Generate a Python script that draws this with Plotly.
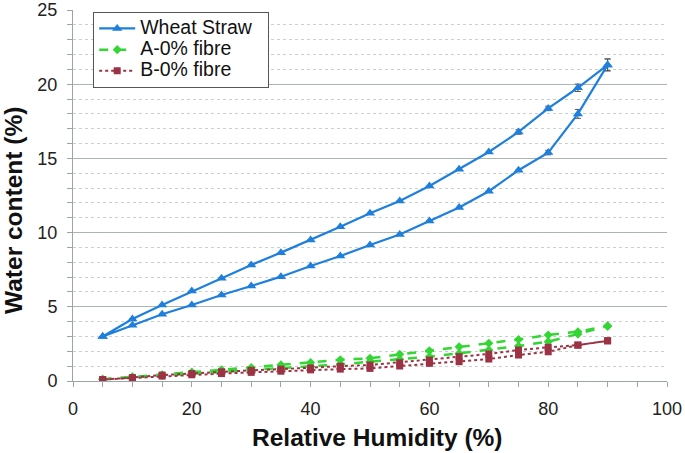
import plotly.graph_objects as go

rh = [5, 10, 15, 20, 25, 30, 35, 40, 45, 50, 55, 60, 65, 70, 75, 80, 85, 90]

wheat_ads = [3.0, 3.75, 4.5, 5.12, 5.8, 6.4, 7.03, 7.75, 8.42, 9.16, 9.87, 10.79, 11.69, 12.79, 14.2, 15.39, 18.0, 21.3]
wheat_des = [3.0, 4.18, 5.12, 6.06, 6.92, 7.82, 8.65, 9.5, 10.4, 11.3, 12.13, 13.14, 14.27, 15.43, 16.78, 18.37, 19.76, 21.3]
wheat_err_ads = [0, 0, 0, 0, 0, 0, 0, 0, 0, 0, 0, 0, 0, 0, 0, 0.15, 0.3, 0.4]
wheat_err_des = [0, 0, 0, 0, 0, 0, 0, 0, 0, 0, 0, 0, 0, 0, 0.15, 0.15, 0.25, 0.4]

a_ads = [0.12, 0.25, 0.38, 0.5, 0.6, 0.72, 0.85, 0.98, 1.12, 1.3, 1.46, 1.64, 1.86, 2.09, 2.36, 2.65, 3.16, 3.7]
a_des = [0.12, 0.28, 0.42, 0.6, 0.75, 0.9, 1.1, 1.25, 1.43, 1.53, 1.8, 2.04, 2.31, 2.54, 2.8, 3.1, 3.32, 3.7]

b_ads = [0.1, 0.2, 0.33, 0.42, 0.5, 0.58, 0.66, 0.75, 0.8, 0.85, 1.01, 1.19, 1.3, 1.48, 1.75, 1.97, 2.42, 2.71]
b_des = [0.1, 0.23, 0.4, 0.5, 0.62, 0.72, 0.8, 0.88, 1.0, 1.08, 1.23, 1.41, 1.64, 1.82, 2.09, 2.27, 2.42, 2.71]

series_names = ["Wheat Straw", "A-0% fibre", "B-0% fibre"]
x_title = "Relative Humidity (%)"
y_title = "Water content (%)"

x_loop = rh + rh[::-1]


def legend_label(s):
    return "<span style='font-size:19.5px'>" + s + "&nbsp;&nbsp;</span>"


fig = go.Figure()
fig.add_trace(go.Scatter(
    x=x_loop, y=wheat_ads + wheat_des[::-1], name=legend_label(series_names[0]),
    mode="lines+markers",
    line=dict(color="#1f7fdc", width=2.2),
    marker=dict(symbol="triangle-up", size=9, color="#1f7fdc"),
    error_y=dict(type="data", array=wheat_err_ads + wheat_err_des[::-1],
                 color="#555555", thickness=1, width=3),
))
fig.add_trace(go.Scatter(
    x=x_loop, y=a_ads + a_des[::-1], name=legend_label(series_names[1]),
    mode="lines+markers",
    line=dict(color="#33d633", width=2.5, dash="dash"),
    marker=dict(symbol="diamond", size=7, color="#33d633"),
))
fig.add_trace(go.Scatter(
    x=x_loop, y=b_ads + b_des[::-1], name=legend_label(series_names[2]),
    mode="lines+markers",
    line=dict(color="#9b3344", width=2, dash="dot"),
    marker=dict(symbol="square", size=7, color="#9b3344"),
))

fig.update_layout(
    width=685, height=453,
    margin=dict(l=73, r=18, t=10, b=72),
    paper_bgcolor="white", plot_bgcolor="white",
    font=dict(family="Liberation Sans, Arial, sans-serif", size=18, color="#222222"),
    showlegend=True,
    legend=dict(
        x=0.034, y=0.995, xanchor="left", yanchor="top",
        bordercolor="#555555", borderwidth=1, bgcolor="white",
        font=dict(size=14, color="#111111"),
        tracegroupgap=0, itemwidth=36,
    ),
    xaxis=dict(
        range=[0, 100], dtick=20, tick0=0, automargin=False,
        showgrid=False, zeroline=False,
        showline=True, linecolor="#9aa6a6", linewidth=1,
        ticks="outside", ticklen=5, tickcolor="#9aa6a6", ticklabelstandoff=6,
        minor=dict(dtick=5, ticks="outside", ticklen=5, tickcolor="#9aa6a6", showgrid=False),
        tickfont=dict(size=18),
    ),
    yaxis=dict(
        range=[0, 25], dtick=5, tick0=0, automargin=False,
        showgrid=True, gridcolor="#aab4b4", gridwidth=1,
        zeroline=False,
        showline=True, linecolor="#9aa6a6", linewidth=1,
        ticks="outside", ticklen=5, tickcolor="#9aa6a6", ticklabelstandoff=6,
        minor=dict(dtick=1, ticks="outside", ticklen=5, tickcolor="#9aa6a6",
                   showgrid=True, gridcolor="#c8d0d0", griddash="dot", gridwidth=1),
        tickfont=dict(size=18),
    ),
    annotations=[
        dict(text="<b>" + x_title + "</b>", xref="paper", yref="paper",
             x=(377 - 73) / 594, y=-(437 - 381) / 371, xanchor="center", yanchor="middle",
             showarrow=False, font=dict(size=24.5, color="#111111")),
        dict(text="<b>" + y_title + "</b>", xref="paper", yref="paper",
             x=-(73 - 13) / 594, y=(381 - 211) / 371, xanchor="center", yanchor="middle",
             textangle=-90, showarrow=False, font=dict(size=24.5, color="#111111")),
    ],
)

fig.write_html("out.html", config={"displayModeBar": False},
               post_script="document.body.style.margin='0px';")
